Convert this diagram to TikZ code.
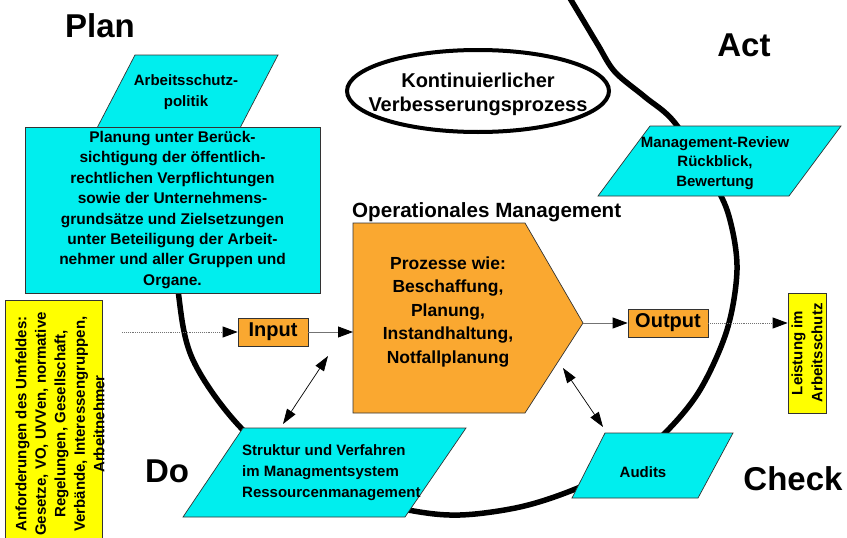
\documentclass[tikz,border=0pt]{standalone}
\usepackage{fontspec}
\setmainfont{Liberation Sans}
\usetikzlibrary{arrows.meta}
\definecolor{cyanfill}{RGB}{0,238,238}
\definecolor{orangefill}{RGB}{250,168,48}
\definecolor{yellowfill}{RGB}{255,255,0}
\begin{document}
\begin{tikzpicture}[
  x=1pt,
  y=-1pt,
  font=\bfseries,
  txt/.style={font=\fontsize{15}{20}\selectfont\bfseries, align=center, inner sep=0pt},
  big/.style={font=\fontsize{20}{24}\selectfont\bfseries, inner sep=0pt},
  phase/.style={font=\fontsize{33}{36}\selectfont\bfseries, inner sep=0pt},
  para/.style={fill=cyanfill, draw=black!80, line width=0.7pt},
  orangebox/.style={fill=orangefill, draw=black!80, line width=0.7pt},
  flow/.style={draw=black!55, line width=0.9pt, -{Triangle[length=15pt,width=11pt,black]}},
  dotflow/.style={flow, densely dotted},
  dbl/.style={line width=0.7pt, {Triangle[length=15pt,width=10pt]}-{Triangle[length=15pt,width=10pt]}}
]
\useasboundingbox (0,0) rectangle (847,538);
\clip (0,0) rectangle (847,538);

% PDCA cycle
\draw[line width=5.5pt] plot[smooth, tension=0.55] coordinates {
  (172,200) (178,290) (193,360) (243,430) (320,490) (408,510) (460,515) (520,507)
  (573,490) (625,465) (665,433) (700,390) (727,330) (737,270) (730,220) (715,185)
  (675,123) (645,97) (615,72) (598,45) (583,20) (568,-5)};

% Plan
\filldraw[para] (135,55) -- (278,55) -- (240,128) -- (97,128) -- cycle;
\node[txt, font=\fontsize{15}{21}\selectfont\bfseries] (politik) at (186,92) {Arbeitsschutz-\\politik};
\node[para, txt, minimum width=295pt, minimum height=166pt,
  font=\fontsize{15.5}{20.4}\selectfont\bfseries] (planung) at (172.5,210)
  {Planung unter Berück-\\sichtigung der öffentlich-\\rechtlichen Verpflichtungen\\sowie der Unternehmens-\\grundsätze und Zielsetzungen\\unter Beteiligung der Arbeit-\\nehmer und aller Gruppen und\\Organe.};

% Umfeld
\filldraw[fill=yellowfill, draw=black!80, line width=0.7pt] (5,300) rectangle (102,545);
\node[txt, rotate=90, font=\fontsize{15}{19.5}\selectfont\bfseries] (umfeld) at (60,424)
  {Anforderungen des Umfeldes:\\Gesetze, VO, UVVen, normative\\Regelungen, Gesellschaft,\\Verbände, Interessengruppen,\\Arbeitnehmer};
\coordinate (umfeldout) at (122,332);

% Operationales Management
\node[orangebox, big, minimum width=70pt, minimum height=28pt] (input) at (273,332) {Input};
\filldraw[orangebox] (353,223) -- (525,223) -- (583,323) -- (525,413) -- (353,413) -- cycle;
\node[txt, font=\fontsize{17.5}{23.5}\selectfont\bfseries] (proc) at (448,312)
  {Prozesse wie:\\Beschaffung,\\Planung,\\Instandhaltung,\\Notfallplanung};
\node[big, font=\fontsize{20.6}{24}\selectfont\bfseries, anchor=base west] (opman) at (352,217) {Operationales Management};
\coordinate (procin) at (353,332);
\coordinate (procout) at (583,323);
\node[orangebox, big, minimum width=80pt, minimum height=28pt] (output) at (668,323) {Output};
\node[txt, rotate=90, fill=yellowfill, draw=black!80, line width=0.7pt,
  minimum width=120pt, minimum height=38pt] (leistung) at (807,353) {Leistung im\\Arbeitsschutz};

\draw[dotflow] (umfeldout) -- (input);
\draw[flow] (input) -- (procin);
\draw[flow] (procout) -- (output);
\draw[dotflow] (output) -- (output.east -| leistung.north);

% Do
\filldraw[para] (243,428) -- (466,428) -- (405,517) -- (183,517) -- cycle;
\node[txt, align=left, anchor=west, font=\fontsize{15}{21}\selectfont\bfseries] (struktur) at (242,473)
  {Struktur und Verfahren\\im Managmentsystem\\Ressourcenmanagement};

% Check
\filldraw[para] (605,433) -- (733,433) -- (698,498) -- (572,498) -- cycle;
\node[txt] (audits) at (643,472) {Audits};

% Act
\filldraw[para] (650,126) -- (841,126) -- (789,196) -- (598,196) -- cycle;
\node[txt, font=\fontsize{15}{19.5}\selectfont\bfseries] (review) at (715,163)
  {Management-Review\\Rückblick,\\Bewertung};

% KVP
\filldraw[fill=white, line width=4pt] (478,91) ellipse [x radius=131pt, y radius=41pt];
\node[big, align=center] (kvp) at (478,94) {Kontinuierlicher\\Verbesserungsprozess};

% double arrows
\coordinate (procsw) at (328,356);
\coordinate (strukturn) at (283,424);
\coordinate (procse) at (563,368);
\coordinate (auditsn) at (603,427);
\draw[dbl] (procsw) -- (strukturn);
\draw[dbl] (procse) -- (auditsn);

% phases
\node[phase] (plan) at (100,26) {Plan};
\node[phase] (act) at (744,45) {Act};
\node[phase] (do) at (167,471) {Do};
\node[phase] (check) at (793,479) {Check};
\end{tikzpicture}
\end{document}
